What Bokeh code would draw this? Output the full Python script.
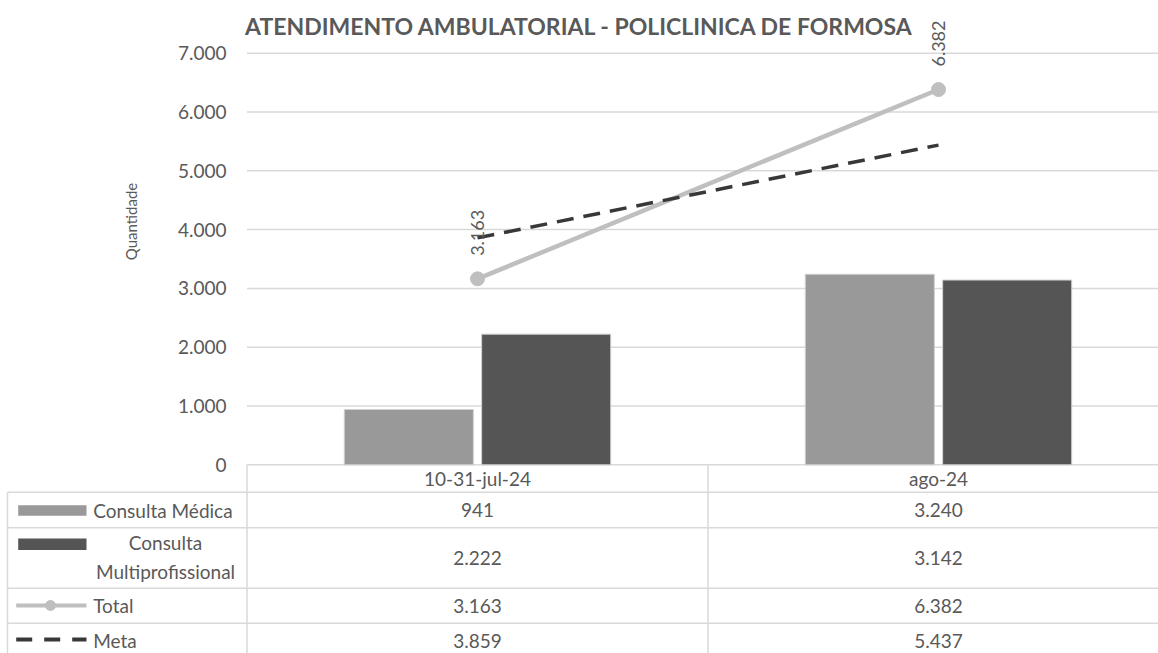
import math
from bokeh.plotting import figure
from bokeh.models import Range1d
from bokeh.core.properties import value
from bokeh.embed import file_html
from bokeh.resources import INLINE

# ---------------- data ----------------
categories = ["10-31-jul-24", "ago-24"]
consulta_medica = [941, 3240]
consulta_multi = [2222, 3142]
total = [3163, 6382]
meta = [3859, 5437]
series_names = ["Consulta Médica", "Consulta Multiprofissional", "Total", "Meta"]
y_ticks = [0, 1000, 2000, 3000, 4000, 5000, 6000, 7000]
y_tick_labels = ["0", "1.000", "2.000", "3.000", "4.000", "5.000", "6.000", "7.000"]
title_text = "ATENDIMENTO AMBULATORIAL - POLICLINICA DE FORMOSA"
y_axis_title = "Quantidade"


def fmt(v):
    return f"{v:,}".replace(",", ".")


# ---------------- layout ----------------
W, H = 1158, 653
CAT_PX = 461.0
PLOT_LEFT = 246.5
ZERO_Y = 464.3
TOP_Y = 52.7
PX_PER_UNIT = (ZERO_Y - TOP_Y) / 7000.0

x_start = -PLOT_LEFT / CAT_PX
x_end = (W - PLOT_LEFT) / CAT_PX
y_end = 7000 + TOP_Y / PX_PER_UNIT
y_start = -(H - ZERO_Y) / PX_PER_UNIT

FONT = "Lato"
TXT = "#595959"
GRID = "#D9D9D9"
C_MED = "#999999"
C_MULTI = "#555555"
C_TOTAL = "#BFBFBF"
C_META = "#383838"
FS = "19px"

p = figure(width=W, height=H, output_backend="svg", toolbar_location=None,
           x_range=Range1d(x_start, x_end), y_range=Range1d(y_start, y_end),
           x_axis_location=None, y_axis_location=None, min_border=0)
p.grid.visible = False
p.outline_line_color = None
p.background_fill_color = "white"
p.border_fill_color = "white"
p.extra_x_ranges = {"px": Range1d(0, W)}
p.extra_y_ranges = {"py": Range1d(H, 0)}

n = len(categories)
centers = [i + 0.5 for i in range(n)]

# gridlines
p.segment(x0=[0] * len(y_ticks), y0=y_ticks, x1=[n] * len(y_ticks), y1=y_ticks,
          line_color=GRID, line_width=1.5)

# y tick labels
p.text(x=[226] * len(y_ticks), y=y_ticks, text=y_tick_labels, x_range_name="px",
       text_align="right", text_baseline="middle", text_color=TXT,
       text_font=value(FONT), text_font_size=FS)

# bars
BAR_W = 0.28
OFF = 0.149
p.vbar(x=[c - OFF for c in centers], top=consulta_medica, bottom=0, width=BAR_W,
       fill_color=C_MED, line_color="#D0D0D0", line_width=1)
p.vbar(x=[c + OFF for c in centers], top=consulta_multi, bottom=0, width=BAR_W,
       fill_color=C_MULTI, line_color="#D0D0D0", line_width=1)

# total line
p.line(x=centers, y=total, line_color=C_TOTAL, line_width=4.5)
p.scatter(x=centers, y=total, size=14, fill_color=C_TOTAL, line_color=C_TOTAL)

# meta line
p.line(x=centers, y=meta, line_color=C_META, line_width=3.5, line_dash="17 10")

# total data labels (rotated)
LABEL_GAP = 23
p.text(x=centers, y=[v + LABEL_GAP / PX_PER_UNIT for v in total],
       text=[fmt(v) for v in total], angle=math.pi / 2,
       text_align="left", text_baseline="middle", text_color=TXT,
       text_font=value(FONT), text_font_size="18px")

# title
p.text(x=[579], y=[25], text=[title_text], x_range_name="px", y_range_name="py",
       text_align="center", text_baseline="middle", text_color=TXT,
       text_font=value(FONT), text_font_style="bold", text_font_size="23px")

# y axis title
p.text(x=[130], y=[221], text=[y_axis_title], x_range_name="px", y_range_name="py",
       angle=math.pi / 2, text_align="center", text_baseline="middle",
       text_color=TXT, text_font=value(FONT), text_font_size="15px")

# ---------------- data table ----------------
row_tops = [464.3, 491.7, 527.3, 587.7, 622.7]
row_bottoms = [491.7, 527.3, 587.7, 622.7, 657.7]
row_centers = [(a + b) / 2 for a, b in zip(row_tops, row_bottoms)]

# horizontal lines (row separators below header)
hl = row_tops[1:]
p.segment(x0=[7] * len(hl), y0=hl, x1=[W] * len(hl), y1=hl,
          x_range_name="px", y_range_name="py", line_color=GRID, line_width=1.5)
# vertical lines at category boundaries
bounds = list(range(n + 1))
p.segment(x0=bounds, y0=[row_tops[0]] * len(bounds), x1=bounds, y1=[H] * len(bounds),
          y_range_name="py", line_color=GRID, line_width=1.5)
# left border of legend column
p.segment(x0=[7], y0=[row_tops[1]], x1=[7], y1=[H],
          x_range_name="px", y_range_name="py", line_color=GRID, line_width=1.5)

# header row: category labels
p.text(x=centers, y=[row_centers[0]] * n, text=categories, y_range_name="py",
       text_align="center", text_baseline="middle", text_color=TXT,
       text_font=value(FONT), text_font_size=FS)

# values
rows = [consulta_medica, consulta_multi, total, meta]
for r, vals in enumerate(rows):
    p.text(x=centers, y=[row_centers[r + 1]] * n, text=[fmt(v) for v in vals],
           y_range_name="py", text_align="center", text_baseline="middle",
           text_color=TXT, text_font=value(FONT), text_font_size=FS)

# legend keys
KEY_X0, KEY_X1 = 17.7, 86.0
kc = (KEY_X0 + KEY_X1) / 2
kw = KEY_X1 - KEY_X0
p.rect(x=[kc], y=[510], width=[kw], height=[10.5], x_range_name="px",
       y_range_name="py", fill_color=C_MED, line_color=None)
p.rect(x=[kc], y=[543.8], width=[kw], height=[11.5], x_range_name="px",
       y_range_name="py", fill_color=C_MULTI, line_color=None)
p.line(x=[15.7, 86.0], y=[605, 605], x_range_name="px", y_range_name="py",
       line_color=C_TOTAL, line_width=4)
p.scatter(x=[50], y=[605], size=10, x_range_name="px", y_range_name="py",
          fill_color=C_TOTAL, line_color=C_TOTAL)
p.line(x=[15.7, 86.0], y=[639, 639], x_range_name="px", y_range_name="py",
       line_color=C_META, line_width=4, line_dash="16 12")

# series labels
LBL_X = 92.7
p.text(x=[LBL_X], y=[row_centers[1]], text=[series_names[0]], x_range_name="px",
       y_range_name="py", text_align="left", text_baseline="middle",
       text_color=TXT, text_font=value(FONT), text_font_size=FS)
p.text(x=[165], y=[556.5], text=[series_names[1].replace(" ", "\n")],
       x_range_name="px", y_range_name="py", text_align="center",
       text_baseline="middle", text_line_height=1.3, text_color=TXT,
       text_font=value(FONT), text_font_size=FS)
p.text(x=[LBL_X, LBL_X], y=[row_centers[3], row_centers[4]],
       text=series_names[2:], x_range_name="px", y_range_name="py",
       text_align="left", text_baseline="middle", text_color=TXT,
       text_font=value(FONT), text_font_size=FS)

open("out.html", "w").write(file_html(p, INLINE))
